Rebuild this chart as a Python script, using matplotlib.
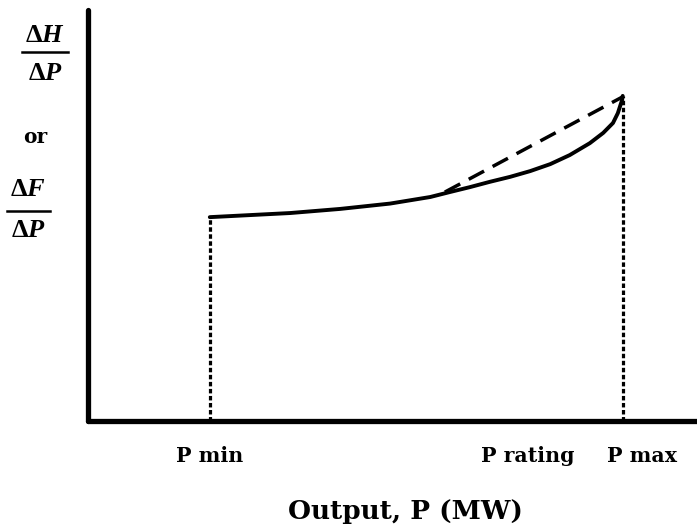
import matplotlib
matplotlib.use("Agg")
import matplotlib.pyplot as plt
from matplotlib.lines import Line2D

plt.rcParams['mathtext.fontset'] = 'custom'
plt.rcParams['mathtext.rm'] = 'Liberation Serif:bold'
plt.rcParams['mathtext.it'] = 'Liberation Serif:italic:bold'
plt.rcParams['mathtext.bf'] = 'Liberation Serif:bold'

# Incremental heat / fuel rate curve (schematic units, % of axis)
curve_x = [20.0, 26.6, 33.2, 41.4, 49.6, 52.9, 56.2, 59.4, 62.7, 66.0, 69.3,
           72.6, 75.9, 79.1, 82.4, 84.6, 86.2, 87.0, 87.7, 87.8]
curve_y = [49.6, 50.1, 50.6, 51.6, 52.9, 53.7, 54.5, 55.7, 56.9, 58.2, 59.4,
           60.8, 62.5, 64.7, 67.6, 70.1, 72.5, 74.9, 78.1, 79.1]
# Dashed straight-line approximation between P rating and P max
dash_x = [58.6, 87.7]
dash_y = [55.7, 78.8]
# Vertical markers
p_min, p_max = 20.0, 87.8
p_min_top, p_max_top = 49.6, 79.1
tick_labels = ["P min", "P rating", "P max"]

W, H = 697, 529
fig = plt.figure(figsize=(W / 100, H / 100), dpi=100)
ax_l, ax_b, ax_r, ax_t = 88, 421, 697, 10
ax = fig.add_axes([ax_l / W, 1 - ax_b / H, (ax_r - ax_l) / W, (ax_b - ax_t) / H])
ax.set_xlim(0, 100)
ax.set_ylim(0, 100)

ax.plot(curve_x, curve_y, color='black', lw=2.8, solid_capstyle='round',
        solid_joinstyle='round', zorder=3)
ax.plot(dash_x, dash_y, color='black', lw=2.5, linestyle=(0, (5, 2.8)),
        dash_capstyle='butt', zorder=2)
ax.plot([p_min, p_min], [0, p_min_top], color='black', lw=2.3,
        linestyle=(0, (1.4, 0.8)), dash_capstyle='butt')
ax.plot([p_max, p_max], [0, p_max_top], color='black', lw=2.3,
        linestyle=(0, (1.4, 0.8)), dash_capstyle='butt')

for s in ['top', 'right']:
    ax.spines[s].set_visible(False)
for s in ['left', 'bottom']:
    ax.spines[s].set_linewidth(3.8)
    ax.spines[s].set_capstyle('round')
ax.set_xticks([])
ax.set_yticks([])
ax.patch.set_alpha(0)

def fx(px):
    return px / W

def fy(py):
    return 1 - py / H

serif = dict(family='DejaVu Serif', weight='bold', color='black')
label_px = [210, 528, 642]
for lab, px in zip(tick_labels, label_px):
    fig.text(fx(px), fy(456), lab, ha='center', va='center', fontsize=14.8, **serif)

fig.text(fx(405), fy(512), "Output, P (MW)", ha='center', va='center', fontsize=19, **serif)
fig.text(fx(35), fy(137), "or", ha='center', va='center', fontsize=14.5, **serif)

# fractions dH/dP and dF/dP
def fraction(cx, num, den, ybar, x0, x1, ynum, yden):
    fig.text(fx(cx), fy(ynum), num, ha='center', va='center', fontsize=19, color='black')
    fig.text(fx(cx), fy(yden), den, ha='center', va='center', fontsize=19, color='black')
    fig.add_artist(Line2D([fx(x0), fx(x1)], [fy(ybar), fy(ybar)], color='black', lw=1.8))

fraction(45, r'$\Delta H$', r'$\Delta P$', 52, 22, 68, 35, 73)
fraction(28, r'$\Delta F$', r'$\Delta P$', 211, 7, 50, 189, 230)

fig.savefig("out.png", dpi=100)
